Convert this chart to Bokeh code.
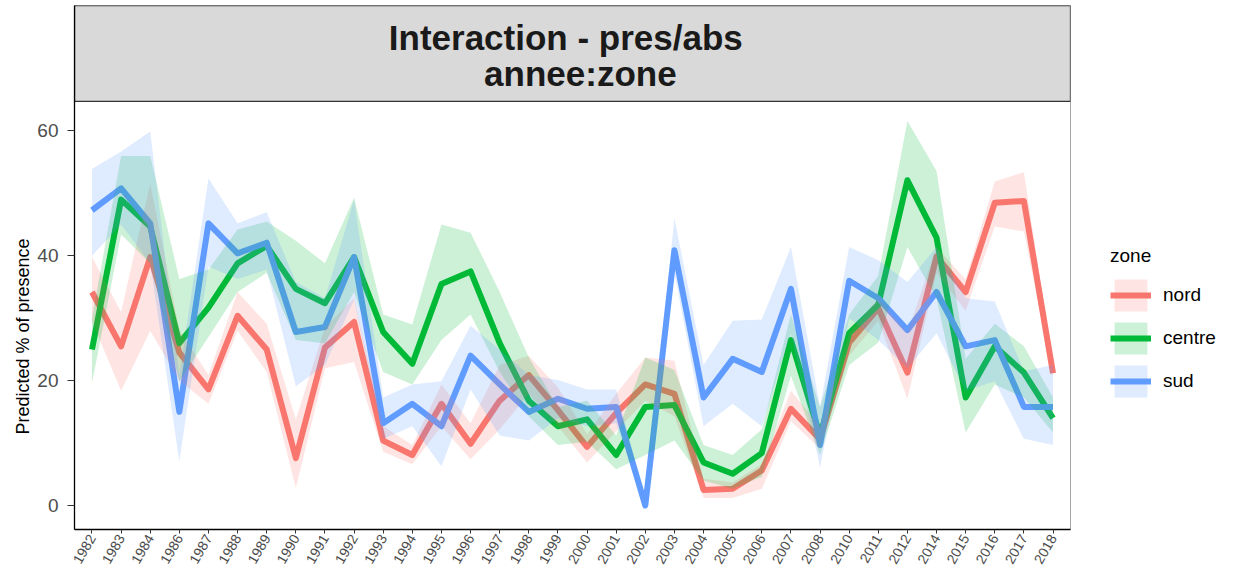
from bokeh.plotting import figure
from bokeh.models import (Range1d, FixedTicker, Legend, LegendItem, Label, Title, ColumnDataSource)
from bokeh.layouts import row
from bokeh.embed import file_html
from bokeh.resources import INLINE
import math

years = ["1982", "1983", "1984", "1986", "1987", "1988", "1989", "1990", "1991", "1992",
         "1993", "1994", "1995", "1996", "1997", "1998", "1999", "2000", "2001", "2002",
         "2003", "2004", "2005", "2006", "2007", "2008", "2010", "2011", "2012", "2014",
         "2015", "2016", "2017", "2018"]

nord = [34.2, 25.5, 39.8, 24.5, 18.6, 30.4, 25.0, 7.6, 25.3, 29.4,
        10.4, 8.1, 16.3, 9.9, 16.8, 20.9, 15.3, 9.4, 14.8, 19.4,
        17.9, 2.5, 2.7, 5.6, 15.5, 10.6, 26.1, 31.6, 21.3, 39.9,
        34.2, 48.5, 48.8, 21.2]
nord_lo = [29.5, 18.4, 28.0, 20.0, 16.3, 28.0, 21.4, 2.8, 22.0, 23.0,
           8.6, 6.6, 12.7, 7.4, 12.2, 17.9, 12.7, 6.9, 11.9, 16.8,
           14.3, 1.2, 1.2, 2.7, 13.5, 9.1, 24.0, 29.6, 17.1, 37.3,
           31.2, 44.7, 43.9, 20.5]
nord_hi = [39.8, 31.0, 51.6, 28.1, 20.9, 34.2, 29.1, 13.8, 28.5, 33.2,
           12.7, 9.7, 19.4, 13.2, 22.5, 24.0, 18.9, 11.4, 17.9, 23.7,
           23.2, 4.3, 3.7, 6.6, 18.4, 12.7, 27.6, 33.2, 27.6, 41.4,
           36.2, 51.9, 53.4, 22.5]

centre = [25.0, 49.0, 44.7, 26.0, 31.7, 38.8, 41.6, 34.7, 32.4, 39.8,
          27.8, 22.7, 35.5, 37.5, 26.0, 16.8, 12.7, 13.8, 8.1, 15.8,
          16.1, 6.9, 5.1, 8.4, 26.5, 11.2, 27.6, 32.2, 52.1, 42.9,
          17.3, 25.5, 21.3, 14.0]
centre_lo = [19.6, 43.4, 38.8, 19.9, 27.0, 34.2, 37.3, 26.5, 26.0, 34.2,
             21.4, 19.4, 26.5, 30.6, 21.4, 14.3, 9.7, 10.2, 5.8, 8.1,
             10.4, 4.0, 2.7, 4.6, 20.8, 8.1, 22.5, 26.1, 41.4, 33.2,
             11.7, 19.4, 17.3, 11.7]
centre_hi = [30.0, 56.0, 56.0, 36.3, 37.8, 44.2, 45.5, 42.4, 38.8, 49.3,
             30.6, 29.0, 45.0, 43.7, 34.2, 23.7, 15.8, 16.8, 11.2, 23.7,
             21.7, 9.7, 8.1, 12.2, 30.6, 15.8, 30.6, 36.8, 61.6, 53.6,
             23.5, 29.1, 25.5, 17.3]

sud = [47.3, 50.8, 45.2, 15.0, 45.2, 40.4, 42.1, 27.8, 28.6, 39.8,
       13.2, 16.3, 12.7, 24.0, 19.4, 15.0, 17.1, 15.5, 15.8, 0.0,
       40.9, 17.3, 23.5, 21.4, 34.7, 9.7, 36.0, 33.2, 28.1, 34.2,
       25.5, 26.5, 15.8, 15.8]
sud_lo = [40.0, 45.0, 38.8, 7.1, 38.3, 36.3, 37.8, 19.1, 22.5, 33.0,
          10.7, 12.7, 6.3, 18.6, 11.2, 10.4, 14.0, 12.7, 13.2, 0.0,
          37.3, 12.7, 16.3, 12.7, 27.6, 6.1, 30.0, 26.5, 22.0, 27.6,
          18.4, 19.9, 10.7, 9.7]
sud_hi = [53.9, 56.7, 59.9, 20.9, 52.4, 45.2, 47.0, 35.8, 33.2, 49.0,
          17.3, 19.4, 19.9, 28.8, 25.0, 20.9, 20.1, 18.6, 18.6, 1.0,
          46.0, 22.5, 29.6, 29.8, 41.4, 15.8, 41.4, 39.3, 35.8, 41.4,
          33.2, 32.7, 21.5, 22.5]

zones = ["nord", "centre", "sud"]
colors = ["#F8766D", "#00BA38", "#619CFF"]
series = [(nord, nord_lo, nord_hi), (centre, centre_lo, centre_hi), (sud, sud_lo, sud_hi)]

FONT = "Liberation Sans"
idx = list(range(len(years)))

H = 570
W_MAIN = 1071
W_LEG = 148
Y_TOP = 80.1
p = figure(width=W_MAIN, height=H, output_backend="svg", toolbar_location=None,
           x_range=Range1d(-0.6, len(years) - 0.4), y_range=Range1d(-3.84, Y_TOP),
           min_border_left=74, min_border_right=1, min_border_top=5, min_border_bottom=0)
p.background_fill_color = "white"
p.border_fill_color = "white"
p.outline_line_color = "#A6A6A6"
p.outline_line_width = 1
p.xgrid.visible = False
p.ygrid.visible = False

# strip (facet header)
p.quad(left=[-0.6], right=[len(years) - 0.4], bottom=[64.75], top=[Y_TOP],
       fill_color="#D9D9D9", line_color="#333333", line_width=1.3)
p.add_layout(Label(x=16.27, y=75.0, text="Interaction - pres/abs", text_font=FONT,
                   text_font_size="35px", text_font_style="bold", text_color="#1A1A1A",
                   text_align="center", text_baseline="middle"))
p.add_layout(Label(x=16.77, y=69.2, text="annee:zone", text_font=FONT,
                   text_font_size="35px", text_font_style="bold", text_color="#1A1A1A",
                   text_align="center", text_baseline="middle"))

lines = []
for (vals, lo, hi), col in zip(series, colors):
    src = ColumnDataSource(dict(x=idx, y=vals))
    lines.append(p.line("x", "y", source=src, line_color=col, line_width=6, line_join="round"))
for (vals, lo, hi), col in zip(series, colors):
    src = ColumnDataSource(dict(x=idx, lo=lo, hi=hi))
    p.varea(x="x", y1="lo", y2="hi", source=src, fill_color=col, fill_alpha=0.2)

# axes
xa = p.xaxis[0]
xa.ticker = FixedTicker(ticks=idx)
xa.major_label_overrides = {i: y for i, y in zip(idx, years)}
xa.major_label_orientation = math.pi / 3
xa.major_label_text_font = FONT
xa.major_label_text_font_size = "14px"
xa.major_label_text_color = "#4D4D4D"
xa.major_label_standoff = 2
xa.major_tick_out = 4
xa.major_tick_in = 0
xa.minor_tick_out = 0
xa.minor_tick_in = 0
xa.axis_line_color = "black"
xa.axis_line_width = 1.3
xa.major_tick_line_color = "#333333"

ya = p.yaxis[0]
ya.ticker = FixedTicker(ticks=[0, 20, 40, 60])
ya.major_label_text_font = FONT
ya.major_label_text_font_size = "19px"
ya.major_label_text_color = "#4D4D4D"
ya.major_label_standoff = 9
ya.major_tick_out = 7
ya.major_tick_in = 0
ya.minor_tick_out = 0
ya.minor_tick_in = 0
ya.axis_line_color = "black"
ya.axis_line_width = 1.3
ya.major_tick_line_color = "#333333"

# y title centred on the panel (below the strip), as ggplot does
ytitle = Title(text="Predicted % of presence", align="left", offset=95,
               text_font=FONT, text_font_size="18px", text_font_style="normal",
               text_color="black", standoff=4)
p.add_layout(ytitle, "left")

# legend panel (separate figure to the right, like ggplot's guide area)
q = figure(width=W_LEG, height=H, output_backend="svg", toolbar_location=None,
           x_range=Range1d(-1000, -999), y_range=Range1d(-1000, -999),
           min_border_left=0, min_border_right=0, min_border_top=0, min_border_bottom=0)
q.axis.visible = False
q.xgrid.visible = False
q.ygrid.visible = False
q.outline_line_color = None
q.background_fill_color = "white"
q.border_fill_color = "white"

items = []
for z, col, (vals, lo, hi) in zip(zones, colors, series):
    r = q.varea(x=idx, y1=lo, y2=hi, fill_color=col, fill_alpha=0.2)
    l = q.line(x=idx, y=vals, line_color=col, line_width=6)
    items.append(LegendItem(label=z, renderers=[r, l]))

legend = Legend(items=items, title="zone", location=(39, 128))
legend.title_text_font = FONT
legend.title_text_font_size = "19px"
legend.title_text_font_style = "normal"
legend.title_text_color = "black"
legend.title_standoff = 8
legend.label_text_font = FONT
legend.label_text_font_size = "19px"
legend.label_text_color = "black"
legend.glyph_width = 41
legend.glyph_height = 40
legend.spacing = 3
legend.label_standoff = 12
legend.padding = 0
legend.margin = 0
legend.border_line_color = None
legend.background_fill_alpha = 0
q.add_layout(legend, "center")

layout = row(p, q)
open("out.html", "w").write(file_html(layout, INLINE))
